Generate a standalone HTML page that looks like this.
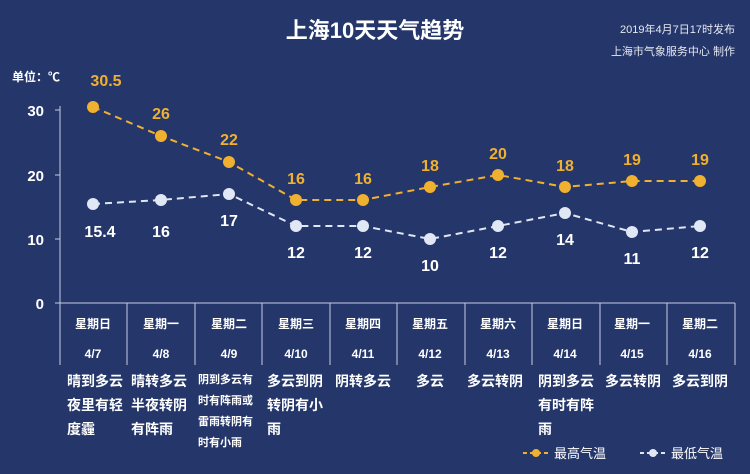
<!DOCTYPE html><html><head><meta charset="utf-8"><style>
body{margin:0;background:#24366a;}
text{font-family:"Liberation Sans","Noto Sans CJK SC",sans-serif;}
</style></head><body>
<svg width="750" height="469" xmlns="http://www.w3.org/2000/svg">
<rect width="750" height="469" fill="#24366a"/>
<text x="375" y="38" text-anchor="middle" fill="#fff" font-size="22" font-weight="bold">上海10天天气趋势</text>
<text x="735" y="33" text-anchor="end" fill="#e6e9f2" font-size="11">2019年4月7日17时发布</text>
<text x="735" y="55" text-anchor="end" fill="#e6e9f2" font-size="11">上海市气象服务中心  制作</text>
<text x="12" y="81" fill="#fff" font-size="12" font-weight="bold">单位：℃</text>
<g fill="#fff" font-size="15" font-weight="bold" text-anchor="end">
<text x="44" y="116">30</text><text x="44" y="181">20</text><text x="44" y="245">10</text><text x="44" y="309">0</text></g>
<g stroke="#c8cde0" stroke-width="1">
<line x1="60" y1="106" x2="60" y2="303"/>
<line x1="55" y1="110" x2="60" y2="110"/><line x1="55" y1="175" x2="60" y2="175"/><line x1="55" y1="239" x2="60" y2="239"/><line x1="55" y1="303" x2="60" y2="303"/>
<line x1="60" y1="303" x2="735" y2="303"/>
<line x1="60" y1="303" x2="60" y2="365"/><line x1="127" y1="303" x2="127" y2="365"/><line x1="195" y1="303" x2="195" y2="365"/><line x1="262" y1="303" x2="262" y2="365"/><line x1="330" y1="303" x2="330" y2="365"/><line x1="397" y1="303" x2="397" y2="365"/><line x1="465" y1="303" x2="465" y2="365"/><line x1="532" y1="303" x2="532" y2="365"/><line x1="600" y1="303" x2="600" y2="365"/><line x1="667" y1="303" x2="667" y2="365"/><line x1="735" y1="303" x2="735" y2="365"/>
</g>
<polyline fill="none" stroke="#f0b030" stroke-width="2" stroke-dasharray="7,5" points="93,107 161,136 229,162 296,200 363,200 430,187 498,175 565,187 632,181 700,181"/>
<polyline fill="none" stroke="#e0e6f2" stroke-width="2" stroke-dasharray="7,5" points="93,204 161,200 229,194 296,226 363,226 430,239 498,226 565,213 632,232 700,226"/>
<g fill="#f0b030"><circle cx="93" cy="107" r="6"/><circle cx="161" cy="136" r="6"/><circle cx="229" cy="162" r="6"/><circle cx="296" cy="200" r="6"/><circle cx="363" cy="200" r="6"/><circle cx="430" cy="187" r="6"/><circle cx="498" cy="175" r="6"/><circle cx="565" cy="187" r="6"/><circle cx="632" cy="181" r="6"/><circle cx="700" cy="181" r="6"/></g>
<g fill="#e0e8f5"><circle cx="93" cy="204" r="6"/><circle cx="161" cy="200" r="6"/><circle cx="229" cy="194" r="6"/><circle cx="296" cy="226" r="6"/><circle cx="363" cy="226" r="6"/><circle cx="430" cy="239" r="6"/><circle cx="498" cy="226" r="6"/><circle cx="565" cy="213" r="6"/><circle cx="632" cy="232" r="6"/><circle cx="700" cy="226" r="6"/></g>
<g fill="#f0b030" font-size="16" font-weight="bold" text-anchor="middle">
<text x="106" y="86">30.5</text><text x="161" y="119">26</text><text x="229" y="145">22</text><text x="296" y="184">16</text><text x="363" y="184">16</text><text x="430" y="171">18</text><text x="498" y="159">20</text><text x="565" y="171">18</text><text x="632" y="165">19</text><text x="700" y="165">19</text></g>
<g fill="#fff" font-size="16" font-weight="bold" text-anchor="middle">
<text x="100" y="237">15.4</text><text x="161" y="237">16</text><text x="229" y="226">17</text><text x="296" y="258">12</text><text x="363" y="258">12</text><text x="430" y="271">10</text><text x="498" y="258">12</text><text x="565" y="245">14</text><text x="632" y="264">11</text><text x="700" y="258">12</text></g>
<g fill="#fff" font-size="12" font-weight="bold" text-anchor="middle">
<text x="93" y="328">星期日</text><text x="161" y="328">星期一</text><text x="229" y="328">星期二</text><text x="296" y="328">星期三</text><text x="363" y="328">星期四</text><text x="430" y="328">星期五</text><text x="498" y="328">星期六</text><text x="565" y="328">星期日</text><text x="632" y="328">星期一</text><text x="700" y="328">星期二</text>
<text x="93" y="358">4/7</text><text x="161" y="358">4/8</text><text x="229" y="358">4/9</text><text x="296" y="358">4/10</text><text x="363" y="358">4/11</text><text x="430" y="358">4/12</text><text x="498" y="358">4/13</text><text x="565" y="358">4/14</text><text x="632" y="358">4/15</text><text x="700" y="358">4/16</text></g>
<g fill="#fff" font-size="14" font-weight="bold">
<text x="67" y="386">晴到多云</text><text x="67" y="410">夜里有轻</text><text x="67" y="434">度霾</text>
<text x="131" y="386">晴转多云</text><text x="131" y="410">半夜转阴</text><text x="131" y="434">有阵雨</text>
<text x="267" y="386">多云到阴</text><text x="267" y="410">转阴有小</text><text x="267" y="434">雨</text>
<text x="335" y="386">阴转多云</text>
<text x="416" y="386">多云</text>
<text x="467" y="386">多云转阴</text>
<text x="538" y="386">阴到多云</text><text x="538" y="410">有时有阵</text><text x="538" y="434">雨</text>
<text x="605" y="386">多云转阴</text>
<text x="672" y="386">多云到阴</text></g>
<g fill="#fff" font-size="11" font-weight="bold">
<text x="198" y="383">阴到多云有</text><text x="198" y="404">时有阵雨或</text><text x="198" y="425">雷雨转阴有</text><text x="198" y="446">时有小雨</text></g>
<line x1="523" y1="453" x2="550" y2="453" stroke="#f0b030" stroke-width="2" stroke-dasharray="4,3"/><circle cx="536" cy="453" r="4" fill="#f0b030"/>
<text x="554" y="458" fill="#fff" font-size="13">最高气温</text>
<line x1="640" y1="453" x2="667" y2="453" stroke="#e0e6f2" stroke-width="2" stroke-dasharray="4,3"/><circle cx="653" cy="453" r="4" fill="#e0e8f5"/>
<text x="671" y="458" fill="#fff" font-size="13">最低气温</text>
</svg></body></html>
